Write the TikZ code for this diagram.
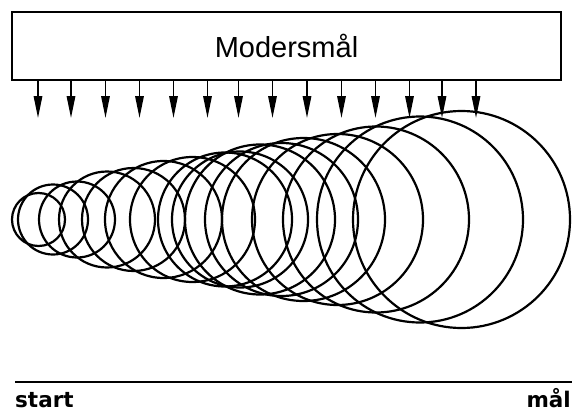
\documentclass[tikz,border=0pt]{standalone}
\usepackage{fontspec}
\setmainfont{Liberation Sans}
\newfontfamily\lblfont{DejaVu Sans}
\usetikzlibrary{arrows.meta}
\begin{document}
\begin{tikzpicture}[x=1pt,y=-1pt,
  mainbox/.style={draw,line width=2pt,rectangle,minimum width=549pt,minimum height=68pt,inner sep=0pt,
    font=\fontsize{29}{31}\selectfont},
  feed/.style={line width=1.6pt,-{Triangle[length=22pt,width=8.5pt]}},
  ring/.style={line width=2.2pt},
  axisline/.style={line width=1.8pt},
  endlabel/.style={inner sep=0pt,font=\lblfont\bfseries\fontsize{21.5}{23}\selectfont}]
\useasboundingbox (0,0) rectangle (572,412);
\node[mainbox] (box) at (286.5,46) {Modersmål};
\foreach \ax [count=\i] in {38,71,105.5,139.5,173.5,207.5,238.5,272.5,307,341.5,375.5,409.5,442,476}{
  \coordinate (tip\i) at (\ax,118);
  \draw[feed] (box.south -| tip\i) -- (tip\i);
}
\foreach \cx/\r in {38.5/26.5,53/35,77/38,107/48,133.5/51.5,163.5/58.5,192.5/62.5,225/67,240/68,260/75,281.5/76.5,303.5/81.5,337.5/85.5,376/93,420/103,461.5/108.5}{
  \draw[ring] (\cx,219.5) circle[radius=\r pt];
}
\coordinate (ls) at (15,382);
\coordinate (le) at (572,382);
\draw[axisline] (ls) -- (le);
\node[endlabel,anchor=base west] (start) at (15,407) {start};
\node[endlabel,anchor=base east] (goal) at (571,407) {mål};
\end{tikzpicture}
\end{document}
